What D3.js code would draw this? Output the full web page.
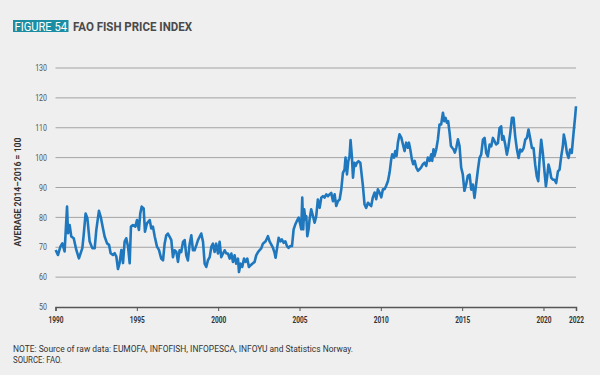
<!DOCTYPE html>
<html><head><meta charset="utf-8">
<script src="https://cdn.jsdelivr.net/npm/d3@7/dist/d3.min.js"></script>
<style>
html,body{margin:0;padding:0;background:#efefef;}
svg{display:block;}
</style></head><body>
<svg id="c" width="600" height="375"></svg>
<script>
// ---- data ----
const dates = [1990.01,1990.15,1990.30,1990.42,1990.56,1990.71,1990.77,1990.87,1990.97,1991.12,1991.28,1991.44,1991.65,1991.73,1991.85,1991.96,1992.10,1992.26,1992.41,1992.51,1992.67,1992.78,1992.92,1993.02,1993.17,1993.29,1993.39,1993.53,1993.64,1993.74,1993.84,1993.94,1994.05,1994.15,1994.25,1994.35,1994.46,1994.56,1994.64,1994.76,1994.91,1995.01,1995.13,1995.21,1995.30,1995.42,1995.50,1995.62,1995.79,1995.89,1995.99,1996.10,1996.24,1996.36,1996.50,1996.61,1996.71,1996.81,1996.91,1997.02,1997.12,1997.22,1997.32,1997.43,1997.53,1997.63,1997.73,1997.84,1997.94,1998.04,1998.14,1998.25,1998.35,1998.45,1998.55,1998.66,1998.76,1998.86,1998.96,1999.07,1999.17,1999.27,1999.37,1999.48,1999.58,1999.68,1999.78,1999.88,1999.99,2000.09,2000.19,2000.30,2000.40,2000.50,2000.60,2000.71,2000.81,2000.91,2001.01,2001.11,2001.22,2001.28,2001.38,2001.48,2001.59,2001.69,2001.79,2001.89,2002.00,2002.10,2002.24,2002.34,2002.45,2002.55,2002.65,2002.75,2002.92,2003.06,2003.16,2003.27,2003.37,2003.47,2003.53,2003.61,2003.72,2003.82,2003.92,2004.02,2004.13,2004.23,2004.33,2004.43,2004.54,2004.64,2004.74,2004.84,2004.95,2005.05,2005.11,2005.17,2005.23,2005.29,2005.36,2005.42,2005.48,2005.56,2005.62,2005.72,2005.83,2005.93,2006.03,2006.13,2006.24,2006.34,2006.44,2006.54,2006.65,2006.75,2006.85,2006.95,2007.06,2007.16,2007.26,2007.36,2007.47,2007.57,2007.67,2007.77,2007.83,2007.92,2008.00,2008.08,2008.14,2008.22,2008.29,2008.37,2008.45,2008.53,2008.63,2008.74,2008.82,2008.90,2009.00,2009.10,2009.21,2009.31,2009.41,2009.51,2009.62,2009.72,2009.82,2009.92,2010.03,2010.13,2010.23,2010.33,2010.44,2010.54,2010.64,2010.70,2010.81,2010.89,2010.97,2011.05,2011.15,2011.26,2011.36,2011.46,2011.56,2011.67,2011.73,2011.81,2011.91,2011.99,2012.08,2012.18,2012.28,2012.38,2012.48,2012.59,2012.69,2012.79,2012.89,2013.00,2013.10,2013.16,2013.24,2013.30,2013.41,2013.51,2013.61,2013.71,2013.82,2013.90,2013.98,2014.06,2014.14,2014.23,2014.31,2014.39,2014.47,2014.55,2014.64,2014.74,2014.84,2014.94,2015.04,2015.14,2015.25,2015.35,2015.46,2015.56,2015.66,2015.76,2015.87,2015.97,2016.07,2016.17,2016.28,2016.38,2016.48,2016.58,2016.69,2016.79,2016.89,2016.99,2017.09,2017.20,2017.30,2017.40,2017.46,2017.54,2017.65,2017.75,2017.85,2017.96,2018.06,2018.16,2018.26,2018.37,2018.47,2018.57,2018.67,2018.78,2018.88,2018.98,2019.08,2019.18,2019.29,2019.39,2019.49,2019.59,2019.68,2019.76,2019.86,2019.96,2020.07,2020.15,2020.23,2020.31,2020.39,2020.48,2020.58,2020.68,2020.78,2020.89,2020.99,2021.09,2021.19,2021.25,2021.34,2021.44,2021.54,2021.64,2021.74,2021.85,2021.95,2022.0];
const values = [69.1,67.4,70.2,71.3,68.6,83.6,74.7,77.4,73.6,73.0,69.1,66.3,69.7,74.0,81.3,79.7,71.9,69.7,69.7,75.8,82.2,80.2,76.3,73.6,71.3,70.8,68.0,67.4,68.0,66.9,62.7,64.7,69.1,64.7,71.9,73.0,70.2,64.7,76.9,77.4,76.9,79.1,75.8,81.3,83.6,83.0,75.2,78.0,79.1,76.3,76.9,73.6,70.2,69.1,66.2,65.6,71.2,74.0,74.6,73.5,72.4,66.7,69.0,68.4,65.1,69.0,68.4,71.8,72.4,67.3,65.6,71.2,74.0,69.0,69.0,70.7,72.4,73.5,74.6,71.8,64.5,63.4,65.6,66.7,70.1,71.2,68.4,71.2,67.9,71.8,66.7,67.9,69.0,67.9,67.9,66.2,67.9,65.1,67.3,64.5,66.2,61.7,64.5,63.4,66.2,65.1,66.2,63.4,64.0,64.5,65.1,67.3,68.4,69.0,69.6,71.2,72.0,73.7,72.0,70.9,69.8,68.1,66.5,69.3,73.2,72.0,72.6,71.5,72.0,70.4,69.8,70.4,70.4,76.0,77.6,78.8,79.9,77.6,76.0,86.6,76.0,82.7,79.3,80.4,73.7,76.0,79.3,82.7,80.4,78.2,80.4,86.0,83.2,86.6,87.1,86.6,87.7,87.1,87.7,88.2,85.4,87.7,83.8,85.4,86.0,89.4,94.9,96.0,100.0,94.4,98.8,100.5,105.9,100.5,93.3,98.3,97.2,98.3,98.8,98.3,94.4,90.5,84.3,83.2,84.9,84.3,83.8,86.7,88.3,86.1,89.4,88.3,86.7,89.4,89.4,90.6,92.2,95.0,99.4,101.1,100.0,102.2,100.6,105.0,107.8,106.7,104.4,102.2,105.0,103.3,105.0,102.8,99.4,97.8,98.9,96.7,95.6,96.1,96.7,97.8,98.3,97.2,100.0,98.9,101.1,98.9,102.8,100.6,102.8,106.1,111.1,111.1,115.0,112.2,113.3,111.7,112.2,108.3,103.9,103.3,102.8,101.7,103.3,106.1,103.9,96.7,94.4,88.9,91.1,93.9,94.3,89.3,91.0,86.5,91.5,96.0,99.9,101.0,106.0,106.6,101.6,100.4,104.4,103.8,106.6,105.5,104.4,104.9,109.9,110.5,106.0,107.2,104.4,101.0,103.8,108.3,113.3,113.3,107.2,102.7,99.9,102.7,102.1,103.2,106.0,106.6,109.4,106.6,103.2,103.2,97.7,93.7,92.1,99.3,106.0,101.6,94.9,90.4,93.7,97.7,96.0,93.2,92.6,92.6,91.5,95.4,96.0,100.4,103.8,107.7,105.5,101.6,99.9,102.7,101.6,108.3,113.9,117.2];
const yTicks = [50,60,70,80,90,100,110,120,130];
const xTicks = [1990,1995,2000,2005,2010,2015,2020,2022];
const figureLabel = "FIGURE 54";
const title = "FAO FISH PRICE INDEX";
const yTitle = "AVERAGE 2014–2016 = 100";
const notes = ["NOTE: Source of raw data: EUMOFA, INFOFISH, INFOPESCA, INFOYU and Statistics Norway.", "SOURCE: FAO."];

// ---- drawing ----
const FONT = "Roboto,'Noto Sans',sans-serif";
const svg = d3.select("#c");
svg.append("rect").attr("width",600).attr("height",375).attr("fill","#efefef");

// squeeze text horizontally to imitate a condensed face
function squeeze(sel, f) {
  sel.each(function(){
    const w = this.getComputedTextLength();
    d3.select(this).attr("textLength", w*f).attr("lengthAdjust","spacingAndGlyphs");
  });
}
function fitTo(sel, w) { sel.attr("textLength", w).attr("lengthAdjust","spacingAndGlyphs"); }

const x = d3.scaleLinear().domain([1990,2022]).range([55.5,576]);
const y = d3.scaleLinear().domain([50,130]).range([307,68]);

// title
svg.append("rect").attr("x",13).attr("y",20).attr("width",55.5).attr("height",12).attr("fill","#1b8ea3");
svg.append("text").attr("x",14.5).attr("y",30.5).attr("font-family",FONT)
  .attr("font-size",12.5).attr("fill","#fff").text(figureLabel).call(fitTo,52.5);
svg.append("text").attr("x",73).attr("y",30.5).attr("font-family",FONT).attr("font-weight","bold")
  .attr("font-size",13).attr("fill","#4a4a4a").text(title).call(fitTo,119);

// gridlines
svg.append("g").selectAll("line").data(yTicks.filter(d=>d>50)).join("line")
  .attr("x1",x(1990)).attr("x2",x(2022)).attr("y1",d=>y(d)).attr("y2",d=>y(d))
  .attr("stroke","#a3a3a3").attr("stroke-width",1);

// y labels
svg.append("g").selectAll("text").data(yTicks).join("text")
  .attr("x",47).attr("y",d=>y(d)).attr("dy","0.35em").attr("text-anchor","end")
  .attr("font-family",FONT).attr("font-size",9).attr("fill","#555").text(d=>d)
  .call(squeeze,0.78);

// x axis
const xAxis = d3.axisBottom(x).tickValues(xTicks).tickFormat(d3.format("d")).tickSize(4).tickPadding(5);
const xg = svg.append("g").attr("transform",`translate(0,${y(50)})`).call(xAxis);
xg.select(".domain").attr("stroke","#555").attr("stroke-width",1.5);
xg.selectAll(".tick line").attr("stroke","#555").attr("stroke-width",1);
xg.selectAll(".tick text").attr("font-family",FONT).attr("font-weight","bold").attr("font-size",9.5)
  .attr("fill","#333").call(fitTo,15);

// y title
svg.append("text").attr("transform",`translate(21,192) rotate(-90)`).attr("text-anchor","middle")
  .attr("font-family",FONT).attr("font-weight","bold").attr("font-size",9.5).attr("fill","#333")
  .text(yTitle).call(fitTo,109);

// line
const data = dates.map((d,i)=>({d, v: values[i]}));
svg.append("path").datum(data)
  .attr("d", d3.line().x(p=>x(p.d)).y(p=>y(p.v)))
  .attr("fill","none").attr("stroke","#1f78be").attr("stroke-width",2.6).attr("stroke-linejoin","round");

// notes
const noteWidths = [340, 49];
svg.append("g").selectAll("text").data(notes).join("text")
  .attr("x",13).attr("y",(d,i)=>352+i*11).attr("font-family",FONT)
  .attr("font-size",8.5).attr("fill","#333").text(d=>d)
  .each(function(d,i){ d3.select(this).call(fitTo, noteWidths[i]); });
</script>
</body></html>
